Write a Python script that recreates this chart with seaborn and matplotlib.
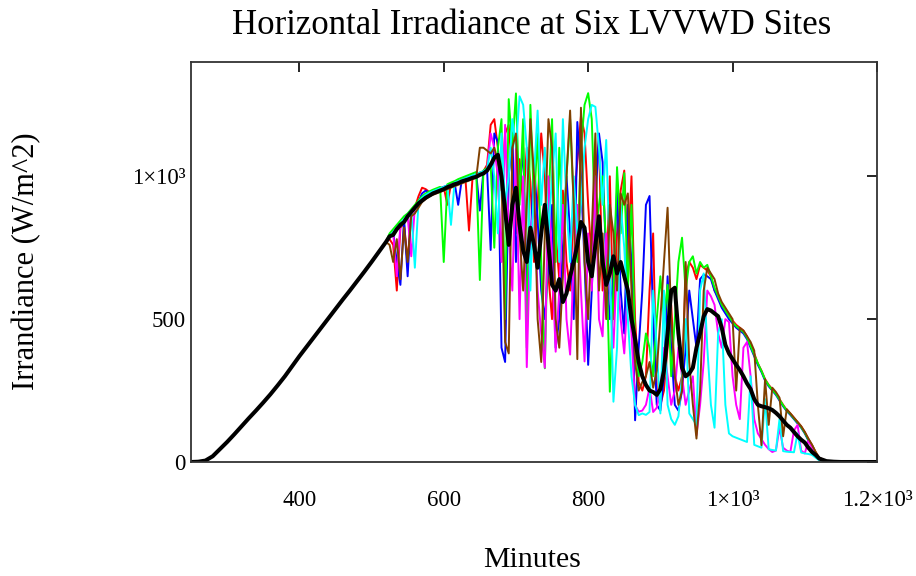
import numpy as np
import pandas as pd
import matplotlib
matplotlib.use("Agg")
import matplotlib.pyplot as plt
import seaborn as sns

# ---------------- data ----------------
x_morning = np.arange(250, 521, 10)     # 250..520
x_mid = np.arange(525, 1121, 5)         # 525..1120
x_tail = np.arange(1130, 1201, 10)      # 1130..1200

# clear morning: all six sites coincide
morning = [0, 1, 5, 20, 45, 70, 97, 125, 153, 180,
           208, 237, 268, 300, 335, 370, 403, 436, 469, 502,
           535, 568, 600, 633, 666, 700, 735, 770]
tail = [3, 1, 0, 0, 0, 0, 0, 0]

red_mid = [780, 760, 600, 820, 835, 700, 875, 890, 930, 960,
           955, 945, 950, 953, 958, 963, 900, 973, 978, 983,
           988, 993, 810, 1000, 1008, 1013, 1018, 1040, 1180, 1200,
           1100, 950, 1150, 1180, 1000, 800, 1060, 900, 1100, 980,
           700, 900, 1150, 1000, 650, 500, 800, 640, 950, 700,
           600, 900, 1050, 1210, 1150, 900, 700, 1000, 1130, 600,
           650, 1000, 500, 800, 950, 1020, 700, 1000, 500, 280,
           250, 300, 600, 800, 250, 200, 250, 400, 550, 300,
           250, 300, 650, 700, 680, 640, 690, 680, 670, 650,
           600, 580, 545, 530, 510, 495, 480, 470, 460, 440,
           410, 380, 345, 320, 290, 270, 255, 240, 220, 200,
           182, 170, 155, 140, 125, 105, 80, 60, 35, 15]

blue_mid = [790, 805, 700, 620, 850, 650, 880, 895, 910, 940,
            950, 942, 948, 953, 958, 963, 968, 973, 978, 900,
            988, 993, 998, 1003, 1008, 880, 1018, 1025, 742, 1150,
            1120, 400, 350, 1000, 1150, 700, 950, 1100, 600, 750,
            1050, 850, 600, 500, 700, 900, 400, 500, 750, 1000,
            800, 500, 1190, 1000, 700, 340, 600, 900, 1150, 1050,
            700, 500, 650, 950, 600, 450, 900, 700, 146, 400,
            600, 900, 931, 500, 200, 180, 300, 650, 400, 200,
            180, 250, 400, 600, 500, 400, 640, 655, 650, 640,
            600, 570, 540, 520, 500, 485, 470, 460, 450, 430,
            400, 370, 340, 315, 285, 265, 250, 235, 215, 195,
            178, 165, 150, 135, 120, 100, 75, 55, 30, 12]

green_mid = [800, 815, 830, 845, 860, 870, 885, 900, 915, 930,
             940, 947, 953, 958, 963, 700, 972, 978, 983, 990,
             995, 1000, 1005, 1010, 1015, 637, 1020, 1030, 1040, 750,
             1100, 1200, 500, 1270, 1100, 1290, 900, 1200, 400, 1250,
             900, 1150, 700, 328, 900, 1200, 700, 1100, 800, 1000,
             1200, 900, 700, 1100, 1250, 1291, 1200, 800, 900, 1000,
             750, 246, 600, 1032, 800, 1011, 600, 900, 400, 300,
             350, 450, 400, 300, 500, 650, 500, 620, 300, 500,
             700, 785, 600, 700, 720, 660, 700, 680, 690, 650,
             610, 580, 550, 530, 510, 490, 475, 465, 455, 435,
             405, 375, 345, 318, 288, 268, 252, 238, 218, 198,
             180, 168, 152, 138, 122, 102, 78, 58, 32, 12]

magenta_mid = [785, 800, 650, 830, 845, 860, 720, 890, 905, 920,
               930, 940, 945, 950, 955, 960, 965, 970, 975, 980,
               985, 990, 995, 1000, 1005, 1010, 1015, 1020, 1150, 1100,
               1000, 700, 1180, 800, 600, 1100, 500, 1000, 332, 800,
               900, 600, 450, 330, 1000, 700, 386, 600, 900, 500,
               376, 700, 900, 600, 352, 800, 600, 1000, 500, 440,
               800, 600, 400, 700, 500, 380, 600, 450, 200, 176,
               180, 200, 260, 175, 190, 250, 400, 300, 200, 250,
               400, 300, 200, 250, 300, 94, 200, 350, 600, 580,
               550, 450, 400, 500, 490, 300, 200, 150, 400, 420,
               300, 150, 100, 80, 60, 45, 35, 40, 120, 50,
               40, 35, 110, 130, 40, 30, 75, 50, 25, 10]

cyan_mid = [790, 805, 820, 835, 850, 865, 880, 680, 910, 925,
            935, 942, 948, 953, 958, 963, 968, 830, 978, 983,
            988, 993, 998, 1003, 1008, 1013, 1018, 1025, 1100, 1000,
            800, 1150, 900, 1000, 1200, 1100, 1280, 1250, 1100, 600,
            1000, 1230, 900, 1100, 800, 1000, 1150, 700, 1200, 900,
            700, 1000, 800, 900, 1100, 1200, 1250, 1243, 1100, 900,
            1127, 700, 211, 400, 900, 750, 500, 300, 200, 164,
            170, 165, 175, 600, 400, 170, 600, 200, 150, 130,
            160, 300, 500, 170, 150, 130, 600, 660, 400, 200,
            120, 450, 500, 200, 100, 90, 85, 80, 75, 70,
            300, 60, 55, 50, 220, 45, 42, 40, 150, 38,
            36, 35, 34, 100, 33, 30, 28, 25, 15, 6]

brown_mid = [760, 700, 780, 640, 820, 700, 860, 870, 890, 910,
             920, 930, 935, 940, 945, 950, 955, 960, 965, 970,
             975, 980, 985, 990, 995, 1100, 1100, 1090, 1080, 1100,
             1050, 1000, 420, 380, 1100, 1150, 800, 600, 900, 1200,
             1000, 500, 350, 800, 1200, 1100, 500, 400, 650, 1000,
             1230, 900, 360, 1240, 700, 500, 800, 1150, 600, 800,
             500, 900, 800, 600, 940, 900, 940, 600, 350, 250,
             280, 300, 350, 260, 320, 500, 700, 890, 500, 300,
             200, 250, 700, 350, 200, 82, 250, 600, 680, 660,
             640, 590, 560, 540, 520, 500, 250, 470, 460, 440,
             420, 390, 200, 59, 290, 130, 260, 245, 225, 90,
             185, 170, 155, 140, 125, 105, 82, 60, 35, 14]

mean_mid = [790, 795, 815, 830, 840, 860, 875, 890, 905, 915,
            925, 932, 940, 945, 950, 955, 962, 966, 972, 976,
            982, 986, 990, 995, 998, 1005, 1010, 1020, 1040, 1065,
            1075, 1000, 880, 760, 900, 960, 830, 740, 700, 820,
            760, 680, 800, 900, 760, 620, 600, 640, 560, 590,
            650, 700, 760, 840, 820, 700, 650, 760, 860, 700,
            620, 660, 720, 660, 700, 650, 600, 500, 430, 350,
            300, 270, 250, 245, 235, 255, 320, 450, 600, 610,
            450, 330, 300, 310, 330, 400, 450, 510, 535, 530,
            520, 510, 470, 410, 380, 360, 340, 322, 300, 275,
            255, 220, 200, 195, 192, 188, 182, 172, 160, 145,
            130, 120, 105, 90, 78, 68, 50, 35, 25, 12]

site_names = ["Site 1", "Site 2", "Site 3", "Site 4", "Site 5", "Site 6"]
site_mid = [red_mid, blue_mid, green_mid, magenta_mid, cyan_mid, brown_mid]
site_colors = ["#ff0000", "#0000ff", "#00ff00", "#ff00ff", "#00ffff", "#804000"]

x_ticks = [400, 600, 800, 1000, 1200]
x_tick_labels = ["400", "600", "800", "1×10³", "1.2×10³"]
y_ticks = [0, 500, 1000]
y_tick_labels = ["0", "500", "1×10³"]

# ---------------- build table ----------------
minutes = np.concatenate([x_morning, x_mid, x_tail])
frames = []
for name, mid in zip(site_names, site_mid):
    vals = np.concatenate([morning, mid, tail])
    frames.append(pd.DataFrame({"Minutes": minutes, "Irradiance": vals, "Site": name}))
df = pd.concat(frames, ignore_index=True)
mean_vals = np.concatenate([morning, mean_mid, tail])

# ---------------- plot ----------------
sns.set_style("white")
plt.rcParams["font.family"] = ["Liberation Serif", "DejaVu Serif"]
plt.rcParams["text.color"] = "black"

fig = plt.figure(figsize=(9.16, 5.76), dpi=100)
ax = fig.add_axes([191 / 916, 1 - 462 / 576, (877 - 191) / 916, (462 - 62) / 576])

sns.lineplot(data=df, x="Minutes", y="Irradiance", hue="Site",
             palette=dict(zip(site_names, site_colors)), estimator=None,
             sort=False, linewidth=1.4, legend=False, ax=ax)
sns.lineplot(x=minutes, y=mean_vals, color="black", linewidth=2.9,
             estimator=None, sort=False, ax=ax)

ax.set_xlim(250, 1200)
ax.set_ylim(0, 1400)
ax.set_xticks(x_ticks)
ax.set_xticklabels(x_tick_labels)
ax.set_yticks(y_ticks)
ax.set_yticklabels(y_tick_labels)
ax.tick_params(axis="both", direction="in", length=7, width=1.2,
               top=True, right=True, labelsize=16.5, colors="black",
               labelcolor="black")
ax.tick_params(axis="x", pad=20)
ax.tick_params(axis="y", pad=4)
for s in ax.spines.values():
    s.set_color("#333333")
    s.set_linewidth(1.3)

ax.set_xlabel("")
ax.set_ylabel("")
fig.text(532 / 916, 1 - 560 / 576, "Minutes", ha="center", va="center",
         fontsize=21.5, color="black")
fig.text(27 / 916, 1 - 261 / 576, "Irrandiance (W/m^2)", ha="center", va="center",
         rotation=90, fontsize=22, color="black")
fig.text(532 / 916, 1 - 25 / 576, "Horizontal Irradiance at Six LVVWD Sites",
         ha="center", va="center", fontsize=25, color="black")

fig.savefig("out.png", dpi=100, facecolor="white")
